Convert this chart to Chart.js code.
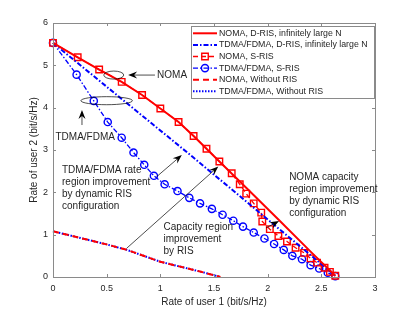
<!DOCTYPE html>
<html>
<head>
<meta charset="utf-8">
<script src="https://cdn.jsdelivr.net/npm/chart.js@4.4.0/dist/chart.umd.min.js"></script>
<style>
  html, body { margin: 0; padding: 0; background: #fff; }
</style>
</head>
<body>
<canvas id="c" width="415" height="312"></canvas>
<script>
// --- data ---
const seriesNames = [
  'NOMA, D-RIS, infinitely large N',
  'TDMA/FDMA, D-RIS, infinitely large N',
  'NOMA, S-RIS',
  'TDMA/FDMA, S-RIS',
  'NOMA, Without RIS',
  'TDMA/FDMA, Without RIS',
];

const xNomaD = [0, 0.23, 0.43, 0.64, 0.83, 1.0, 1.17, 1.31, 1.43, 1.55, 1.8, 2.1, 2.4, 2.63];
const yNomaD = [5.53, 5.19, 4.90, 4.61, 4.30, 3.98, 3.66, 3.33, 3.03, 2.73, 2.11, 1.36, 0.6, 0.03];

const xTdmaD = [0, 1.3, 2.63];
const yTdmaD = [5.53, 2.84, 0.03];

const xNomaS = [0, 0.23, 0.43, 0.64, 0.83, 1.0, 1.17, 1.31, 1.43, 1.55, 1.665, 1.74, 1.80, 1.87, 1.94,
  1.95, 2.02, 2.10, 2.18, 2.26, 2.34, 2.40, 2.46, 2.53, 2.58, 2.63];
const yNomaS = [5.53, 5.19, 4.90, 4.61, 4.30, 3.98, 3.66, 3.33, 3.03, 2.73, 2.45, 2.19, 1.97, 1.74, 1.52,
  1.31, 1.13, 0.97, 0.84, 0.69, 0.57, 0.44, 0.34, 0.22, 0.12, 0.03];

const xTdmaS = [0, 0.22, 0.38, 0.51, 0.64, 0.75, 0.85, 0.94, 1.04, 1.16, 1.27, 1.37, 1.48, 1.58, 1.68,
  1.77, 1.87, 1.97, 2.06, 2.15, 2.23, 2.32, 2.40, 2.48, 2.56, 2.63];
const yTdmaS = [5.53, 4.78, 4.16, 3.66, 3.29, 2.94, 2.65, 2.39, 2.19, 2.03, 1.87, 1.74, 1.61, 1.47, 1.33,
  1.19, 1.05, 0.91, 0.78, 0.64, 0.50, 0.42, 0.28, 0.20, 0.10, 0.02];

const xNoRis = [0, 0.5, 0.69, 1.0, 1.37, 1.56];
const yNoRis = [1.08, 0.77, 0.64, 0.36, 0.13, 0];

const xTickVals = [0, 0.5, 1, 1.5, 2, 2.5, 3];
const yTickVals = [0, 1, 2, 3, 4, 5, 6];

// annotation anchors (data units)
const notes = {
  nomaEllipse: { x: 0.566, y: 4.77, rx: 0.093, ry: 0.095 },
  tdmaEllipse: { x: 0.50, y: 4.165, rx: 0.24, ry: 0.095 },
};

const FONT = "'Liberation Sans', Arial, Helvetica, sans-serif";
const RED = '#ff0000';
const BLUE = '#0000ff';
const AXIS = '#8a8a8a';
const TEXT = '#262626';

const pts = (xs, ys) => xs.map((x, i) => ({ x, y: ys[i] }));

const datasets = [
  { data: pts(xNomaD, yNomaD), borderColor: RED, borderWidth: 2, pointRadius: 0 },
  { data: pts(xTdmaD, yTdmaD), borderColor: BLUE, borderWidth: 2, borderDash: [5, 2, 1.5, 2], pointRadius: 0 },
  { data: pts(xNomaS, yNomaS), borderColor: RED, borderWidth: 1.3, borderDash: [5, 3],
    pointStyle: 'rect', pointRadius: 4.6, pointBorderWidth: 1.4, pointBorderColor: RED, pointBackgroundColor: 'rgba(0,0,0,0)' },
  { data: pts(xTdmaS, yTdmaS), borderColor: BLUE, borderWidth: 1.3, borderDash: [5, 2, 1.5, 2],
    pointStyle: 'circle', pointRadius: 3.6, pointBorderWidth: 1.4, pointBorderColor: BLUE, pointBackgroundColor: 'rgba(0,0,0,0)' },
  { data: pts(xNoRis, yNoRis), borderColor: RED, borderWidth: 2, borderDash: [6, 4], pointRadius: 0 },
  { data: pts(xNoRis, yNoRis), borderColor: BLUE, borderWidth: 2, borderDash: [1.5, 1.5], pointRadius: 0 },
];
datasets.forEach((d, i) => {
  d.label = seriesNames[i];
  d.fill = false;
  d.tension = 0;
  d.clip = 8;
});

// --- drawing helpers ---
function arrow(ctx, x1, y1, x2, y2) {
  const a = Math.atan2(y2 - y1, x2 - x1);
  const L = 9, W = 3.5, N = 6;
  ctx.save();
  ctx.strokeStyle = '#000';
  ctx.lineWidth = 0.7;
  ctx.beginPath();
  ctx.moveTo(x1, y1);
  ctx.lineTo(x2 - Math.cos(a) * N, y2 - Math.sin(a) * N);
  ctx.stroke();
  ctx.translate(x2, y2);
  ctx.rotate(a);
  ctx.fillStyle = '#000';
  ctx.beginPath();
  ctx.moveTo(0, 0);
  ctx.lineTo(-L, -W);
  ctx.lineTo(-N, 0);
  ctx.lineTo(-L, W);
  ctx.closePath();
  ctx.fill();
  ctx.restore();
}

function textLines(ctx, lines, x, y, step, align = 'left') {
  ctx.save();
  ctx.fillStyle = TEXT;
  ctx.font = '10px ' + FONT;
  ctx.textAlign = align;
  ctx.textBaseline = 'middle';
  lines.forEach((t, i) => ctx.fillText(t, x, y + i * step));
  ctx.restore();
}

const decor = {
  id: 'decor',
  afterDatasetsDraw(chart) {
    const { ctx, chartArea: a, scales: { x, y } } = chart;
    const px = v => x.getPixelForValue(v);
    const py = v => y.getPixelForValue(v);

    // box with inward ticks
    ctx.save();
    ctx.strokeStyle = AXIS;
    ctx.lineWidth = 1;
    ctx.strokeRect(Math.round(a.left) + 0.5, Math.round(a.top) + 0.5,
      Math.round(a.right - a.left), Math.round(a.bottom - a.top));
    ctx.beginPath();
    xTickVals.forEach(v => {
      const p = Math.round(px(v)) + 0.5;
      ctx.moveTo(p, a.bottom); ctx.lineTo(p, a.bottom - 3);
      ctx.moveTo(p, a.top); ctx.lineTo(p, a.top + 3);
    });
    yTickVals.forEach(v => {
      const p = Math.round(py(v)) + 0.5;
      ctx.moveTo(a.left, p); ctx.lineTo(a.left + 3, p);
      ctx.moveTo(a.right, p); ctx.lineTo(a.right - 3, p);
    });
    ctx.stroke();
    ctx.restore();

    // ellipses
    ctx.save();
    ctx.strokeStyle = '#000';
    ctx.lineWidth = 0.7;
    [notes.nomaEllipse, notes.tdmaEllipse].forEach(e => {
      ctx.beginPath();
      ctx.ellipse(px(e.x), py(e.y), px(e.x + e.rx) - px(e.x), py(e.y) - py(e.y + e.ry), 0, 0, Math.PI * 2);
      ctx.stroke();
    });
    ctx.restore();

    // arrows
    arrow(ctx, px(0.95), py(4.77), px(0.70), py(4.77));
    arrow(ctx, px(0.27), py(3.59), px(0.27), py(3.945));
    arrow(ctx, px(0.966), py(2.37), px(1.20), py(2.88));
    arrow(ctx, px(0.687), py(0.68), px(1.54), py(2.61));
    arrow(ctx, px(1.985), py(1.16), px(2.106), py(1.32));

    // annotation text
    textLines(ctx, ['NOMA'], px(0.97), py(4.77), 12);
    textLines(ctx, ['TDMA/FDMA'], px(0.30), py(3.31), 12, 'center');
    textLines(ctx, ['TDMA/FDMA rate', 'region improvement', 'by dynamic RIS', 'configuration'], px(0.084), py(2.51), 12);
    textLines(ctx, ['Capacity region', 'improvement', 'by RIS'], px(1.03), py(1.18), 12);
    textLines(ctx, ['NOMA capacity', 'region improvement', 'by dynamic RIS', 'configuration'], px(2.20), py(2.355), 12);

    // legend
    const lx = 191, ly = 26, lw = 183, lh = 72;
    ctx.save();
    ctx.fillStyle = '#fff';
    ctx.fillRect(lx, ly, lw, lh);
    ctx.strokeStyle = AXIS;
    ctx.lineWidth = 1;
    ctx.strokeRect(lx + 0.5, ly + 0.5, lw, lh);
    chart.data.datasets.forEach((d, i) => {
      const yy = 33.3 + i * 11.6;
      ctx.save();
      ctx.strokeStyle = d.borderColor;
      ctx.lineWidth = d.borderWidth;
      ctx.setLineDash(d.borderDash || []);
      ctx.beginPath();
      ctx.moveTo(193, yy);
      ctx.lineTo(217, yy);
      ctx.stroke();
      ctx.restore();
      if (d.pointRadius > 0) {
        ctx.save();
        ctx.strokeStyle = d.pointBorderColor;
        ctx.fillStyle = 'rgba(0,0,0,0)';
        ctx.lineWidth = d.pointBorderWidth;
        Chart.helpers.drawPoint(ctx, { pointStyle: d.pointStyle, radius: d.pointRadius, borderWidth: d.pointBorderWidth, rotation: 0 }, 205, yy);
        ctx.restore();
      }
      ctx.fillStyle = TEXT;
      ctx.font = '8.8px ' + FONT;
      ctx.textAlign = 'left';
      ctx.textBaseline = 'middle';
      ctx.fillText(d.label, 219, yy);
    });
    ctx.restore();
  },
};

new Chart(document.getElementById('c'), {
  type: 'line',
  data: { datasets },
  plugins: [decor],
  options: {
    responsive: false,
    animation: false,
    events: [],
    layout: { padding: { top: 23, right: 40, left: 0, bottom: 0 } },
    plugins: { legend: { display: false }, tooltip: { enabled: false } },
    scales: {
      x: {
        type: 'linear', min: 0, max: 3,
        afterBuildTicks: s => { s.ticks = xTickVals.map(v => ({ value: v })); },
        afterFit: s => { s.height = 35; },
        grid: { display: false, drawTicks: false },
        border: { display: false },
        ticks: { color: TEXT, font: { family: FONT, size: 9 }, padding: 6, maxRotation: 0, callback: v => String(v) },
        title: { display: true, text: 'Rate of user 1 (bit/s/Hz)', color: TEXT,
          font: { family: FONT, size: 10 }, padding: { top: 0, bottom: 4 } },
      },
      y: {
        type: 'linear', min: 0, max: 6,
        afterBuildTicks: s => { s.ticks = yTickVals.map(v => ({ value: v })); },
        afterFit: s => { s.width = 53; },
        grid: { display: false, drawTicks: false },
        border: { display: false },
        ticks: { color: TEXT, font: { family: FONT, size: 9 }, padding: 5, callback: v => String(v) },
        title: { display: true, text: 'Rate of user 2 (bit/s/Hz)', color: TEXT,
          font: { family: FONT, size: 10 }, padding: { top: 28, bottom: 0 } },
      },
    },
  },
});
</script>
</body>
</html>
